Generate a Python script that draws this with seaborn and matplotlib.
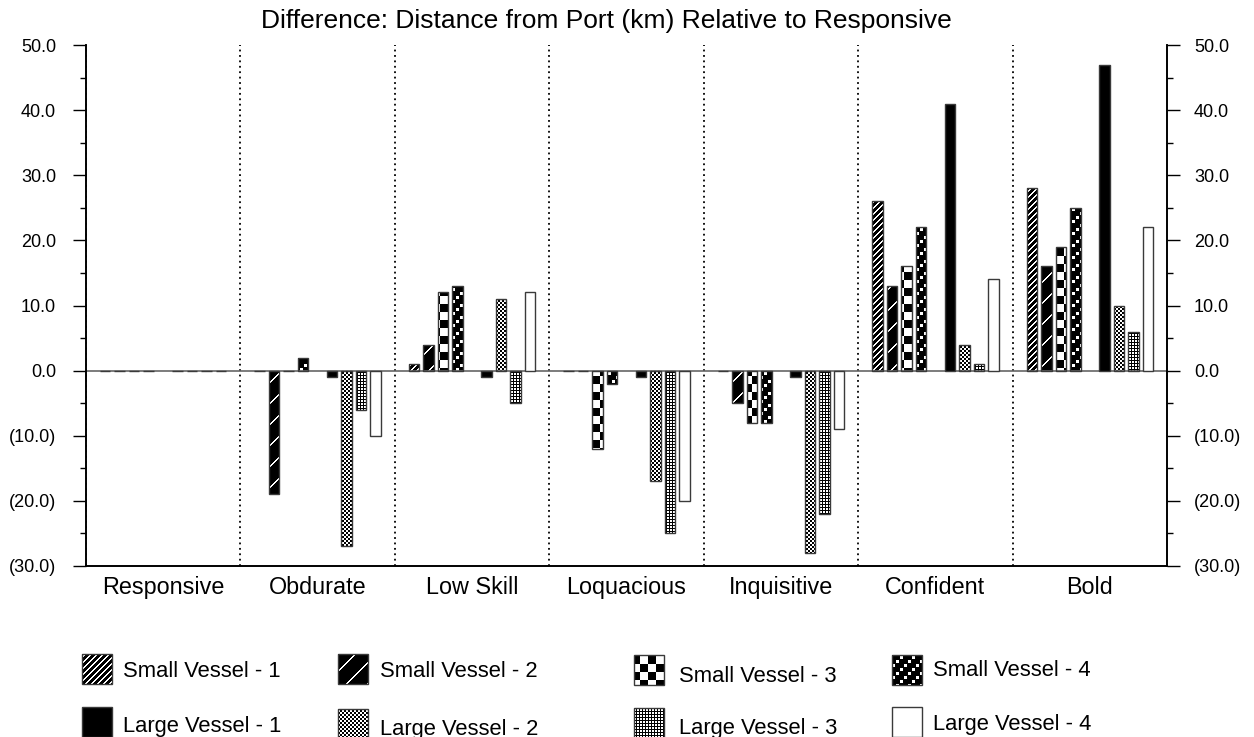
import numpy as np
import pandas as pd
import matplotlib
matplotlib.use("Agg")
import matplotlib.pyplot as plt
import seaborn as sns
from matplotlib.path import Path
from matplotlib.patches import Rectangle
from matplotlib.transforms import IdentityTransform
from matplotlib.colors import to_hex
from matplotlib.ticker import MultipleLocator, FuncFormatter

# Data (difference in km relative to Responsive)
categories = ["Responsive", "Obdurate", "Low Skill", "Loquacious",
              "Inquisitive", "Confident", "Bold"]
series_names = ["Small Vessel - 1", "Small Vessel - 2", "Small Vessel - 3",
                "Small Vessel - 4", "Large Vessel - 1", "Large Vessel - 2",
                "Large Vessel - 3", "Large Vessel - 4"]
small_1 = [0, 0, 1, 0, 0, 26, 28]
small_2 = [0, -19, 4, 0, -5, 13, 16]
small_3 = [0, 0, 12, -12, -8, 16, 19]
small_4 = [0, 2, 13, -2, -8, 22, 25]
large_1 = [0, -1, -1, -1, -1, 41, 47]
large_2 = [0, -27, 11, -17, -28, 4, 10]
large_3 = [0, -6, -5, -25, -22, 1, 6]
large_4 = [0, -10, 12, -20, -9, 14, 22]
y_ticks = [-30, -20, -10, 0, 10, 20, 30, 40, 50]

W, H = 1254, 737

sns.set_theme(style="white")
plt.rcParams["font.family"] = ["Liberation Sans", "DejaVu Sans"]
plt.rcParams["text.color"] = "black"
plt.rcParams["xtick.color"] = "black"
plt.rcParams["ytick.color"] = "black"

rows = []
for name, vals in zip(series_names, [small_1, small_2, small_3, small_4,
                                     large_1, large_2, large_3, large_4]):
    for cat, v in zip(categories, vals):
        rows.append({"Behaviour": cat, "Series": name, "Diff": v})
df = pd.DataFrame(rows)

# empty slot between the small and large vessel bars
gap_level = " "
hue_order = series_names[:4] + [gap_level] + series_names[4:]
key_colors = ["#ff0000", "#00ff00", "#0000ff", "#ffff00", "#888888",
              "#ff00ff", "#00ffff", "#ff8000", "#8000ff"]
palette = dict(zip(hue_order, key_colors))

fig = plt.figure(figsize=(W / 100, H / 100), dpi=100)
ax = fig.add_axes([86 / W, 1 - 566 / H, (1167 - 86) / W, (566 - 45) / H])
ax.set_facecolor("none")

sns.barplot(data=df, x="Behaviour", y="Diff", hue="Series", order=categories,
            hue_order=hue_order, palette=palette, saturation=1, width=0.845,
            gap=0.28, errorbar=None, edgecolor="#3a3a3a", linewidth=1.0,
            legend=False, ax=ax, zorder=3)

ax.set_xlim(-0.5, 6.5)
ax.set_ylim(-30, 50)
ax.set_xlabel("")
ax.set_ylabel("")

def fmt(v, pos):
    return f"({abs(v):.1f})" if v < 0 else f"{v:.1f}"

ax2 = ax.twinx()
ax2.set_ylim(-30, 50)
for a in (ax, ax2):
    a.set_yticks(y_ticks)
    a.yaxis.set_major_formatter(FuncFormatter(fmt))
    a.yaxis.set_minor_locator(MultipleLocator(5))
    a.spines["top"].set_visible(False)
    for s in ("left", "right", "bottom"):
        a.spines[s].set_color("black")
        a.spines[s].set_linewidth(1.2)
ax.tick_params(axis="y", which="both", left=True, right=False, direction="out",
               width=1.0, color="black", labelsize=13, pad=12)
ax.tick_params(axis="y", which="major", length=9.5)
ax.tick_params(axis="y", which="minor", length=4.5)
ax2.tick_params(axis="y", which="both", left=False, right=True, direction="out",
                width=1.0, color="black", labelsize=13, pad=10)
ax2.tick_params(axis="y", which="major", length=9.5)
ax2.tick_params(axis="y", which="minor", length=4.5)

ax.set_xticks(range(len(categories)))
ax.set_xticklabels(categories)
ax.tick_params(axis="x", length=0, pad=7, labelsize=16.8)

for i in range(len(categories)):
    ax.axvline(i - 0.5, color="black", ls=(0, (1, 2)), lw=1.3, zorder=1)
ax.axhline(0, color="#666666", lw=1.2, zorder=2)

fig.text(606 / W, 1 - 21 / H,
         "Difference: Distance from Port (km) Relative to Responsive",
         ha="center", va="center", fontsize=19)

# bitmap fill patterns (True = white pixel)
yy, xx = np.mgrid[0:H, 0:W]
patterns = {
    "Small Vessel - 1": (xx + yy) % 6 < 2,
    "Small Vessel - 2": (xx + yy) % 21 < 2,
    "Small Vessel - 3": (xx // 8 + yy // 8) % 2 == 0,
    "Small Vessel - 4": (((xx % 12) // 4 + (yy % 12) // 4) == 2) & (xx % 4 != 3) & (yy % 4 != 3),
    "Large Vessel - 2": (xx // 2 + yy // 2) % 2 == 0,
    "Large Vessel - 3": (xx % 3 != 0) & (yy % 3 != 0),
}
solid = {"Large Vessel - 1": "black", "Large Vessel - 4": "white"}

color_to_series = {to_hex(c): s for s, c in palette.items()}
clip_paths = {s: [] for s in patterns}
for bar in ax.patches:
    s = color_to_series.get(to_hex(bar.get_facecolor()))
    if s is None:
        continue
    if s in solid:
        bar.set_facecolor(solid[s])
    else:
        bar.set_facecolor("none")
        clip_paths[s].append(bar.get_path().transformed(bar.get_transform()))

# legend: boxes and labels in pixel positions
legend_boxes = [(82, 654), (338, 654), (634, 655), (892, 655),
                (82, 707), (338, 709), (634, 708), (892, 707)]
legend_text = [(123, 677), (380, 677), (679, 682), (933, 676),
               (123, 732), (380, 735), (679, 734), (933, 730)]
for s, (bx, by), (tx, ty) in zip(series_names, legend_boxes, legend_text):
    rect = Rectangle((bx, H - by - 30), 30, 30, transform=IdentityTransform(),
                     facecolor=solid.get(s, "none"), edgecolor="#3a3a3a",
                     lw=1.0, zorder=2)
    fig.add_artist(rect)
    if s in patterns:
        clip_paths[s].append(rect.get_path().transformed(rect.get_transform()))
    fig.text(tx / W, 1 - ty / H, s, ha="left", va="baseline", fontsize=15.8)

for s, mask in patterns.items():
    rgb = np.repeat(mask[:, :, None].astype(float), 3, axis=2)
    im = fig.figimage(rgb, xo=0, yo=0, origin="upper", zorder=-1)
    im.set_clip_path(Path.make_compound_path(*clip_paths[s]), IdentityTransform())

fig.savefig("out.png", dpi=100)
